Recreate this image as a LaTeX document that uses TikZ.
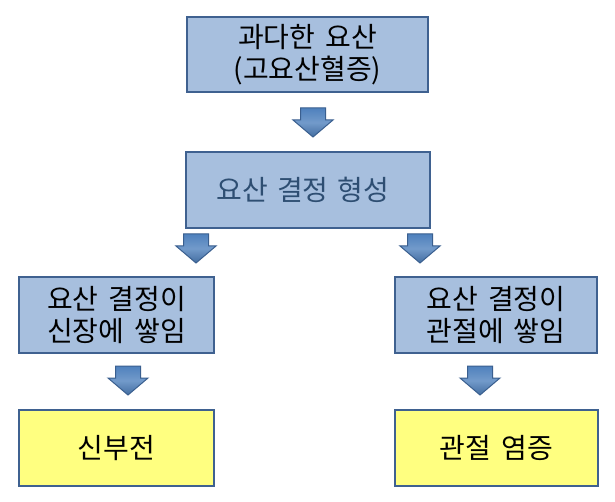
\documentclass[tikz,border=0pt]{standalone}
\usepackage{fontspec}
\setmainfont{Noto Sans CJK KR}[WordSpace=1.6]
\begin{document}
\begin{tikzpicture}[x=1pt,y=-1pt,
  boxbase/.style={draw=boxline, line width=2.4pt, rectangle, inner sep=0pt, align=center,
    font=\fontsize{28}{32}\selectfont},
  bluebox/.style={boxbase, fill=boxblue},
  yellowbox/.style={boxbase, fill=boxyellow},
  blockarrow/.pic={
    \draw[draw=arrowline, line width=1pt, top color=arrowfill, bottom color=arrowfill!85!black, middle color=arrowfill!80!white]
      (-12.5,0) -- (12.5,0) -- (12.5,12) -- (20,12) -- (0,29) -- (-20,12) -- (-12.5,12) -- cycle;
  }]
\definecolor{boxblue}{HTML}{A7BFDE}
\definecolor{boxline}{HTML}{3F6190}
\definecolor{boxyellow}{HTML}{FFFF80}
\definecolor{arrowfill}{HTML}{4F81BD}
\definecolor{arrowline}{HTML}{3A5F8F}
\definecolor{softtext}{HTML}{2E4E72}
\useasboundingbox (0,0) rectangle (615,502);
\fill[white] (0,0) rectangle (615,502);

\node[bluebox, minimum width=241pt, minimum height=75pt] (top) at (307.5,54.5) {과다한 요산\\(고요산혈증)};
\node[bluebox, minimum width=244pt, minimum height=76pt, text=softtext] (form) at (308,190) {\hspace*{-10pt}요산\hspace{9pt}결정\hspace{9pt}형성};
\node[bluebox, minimum width=195pt, minimum height=76pt] (kid) at (116.5,315) {요산 결정이\\신장에 쌓임};
\node[bluebox, minimum width=202pt, minimum height=76pt] (joint) at (496,315) {요산 결정이\\관절에 쌓임};
\node[yellowbox, minimum width=195pt, minimum height=76pt] (renal) at (116.5,448) {신부전};
\node[yellowbox, minimum width=203pt, minimum height=76pt] (arth) at (496.5,448) {관절 염증};

\coordinate (a1) at (313,108);
\coordinate (a2) at (196,234);
\coordinate (a3) at (420,234);
\coordinate (a4) at (128,366);
\coordinate (a5) at (480,366);
\foreach \c in {a1,a2,a3,a4,a5} \pic at (\c) {blockarrow};
\end{tikzpicture}
\end{document}
